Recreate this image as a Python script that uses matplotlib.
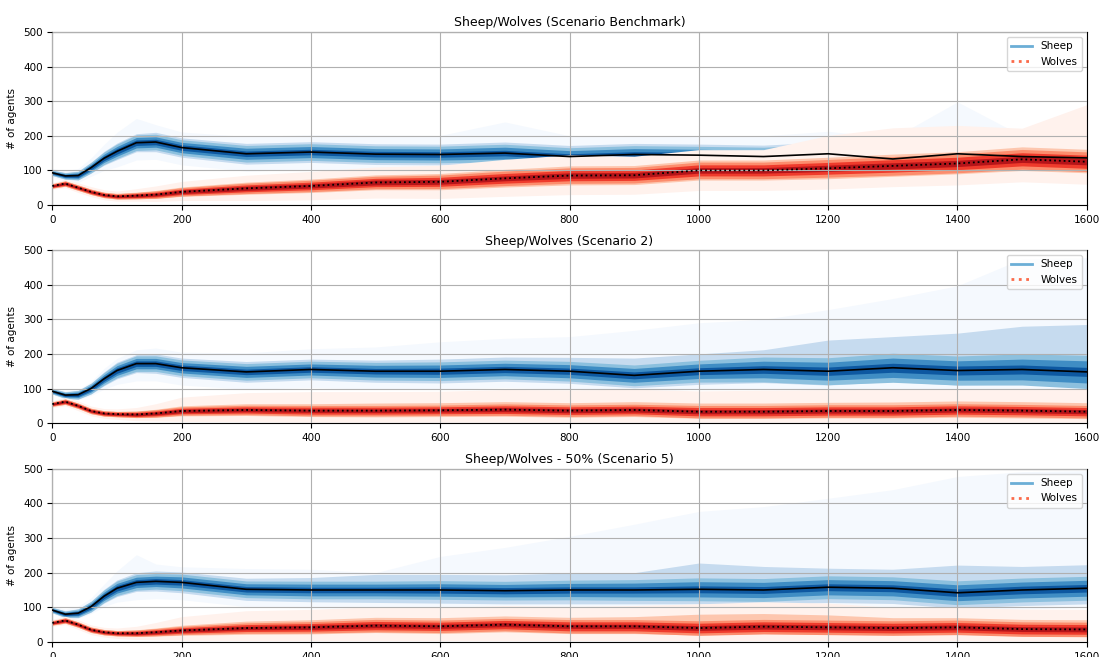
import numpy as np
import matplotlib
matplotlib.use('Agg')
import matplotlib.pyplot as plt
from matplotlib.lines import Line2D

steps = [0, 20, 40, 60, 80, 100, 130, 160, 200, 300, 400, 500, 600,
         700, 800, 900, 1000, 1100, 1200, 1300, 1400, 1500, 1600]

# ---- Scenario Benchmark ----
bench_sheep_med = [93, 84, 85, 108, 135, 155, 180, 182, 166, 148, 153, 147, 146,
                   150, 140, 146, 144, 140, 148, 133, 148, 140, 136]
bench_sheep_core = [3, 4, 5, 6, 7, 8, 8, 8, 8, 8, 8, 8, 8,
                    8, 8, 8, 8, 8, 9, 9, 9, 9, 9]
bench_sheep_iqr = [5, 6, 8, 10, 12, 14, 15, 15, 15, 16, 16, 16, 16,
                   17, 17, 17, 17, 18, 18, 18, 19, 20, 20]
bench_sheep_up90 = [8, 10, 13, 16, 20, 24, 26, 28, 28, 30, 30, 30, 30,
                    32, 32, 32, 32, 33, 34, 34, 36, 38, 40]
bench_sheep_dn90 = [8, 10, 13, 16, 20, 24, 26, 28, 28, 30, 30, 30, 30,
                    30, 30, 30, 30, 30, 30, 30, 30, 32, 32]
bench_sheep_upmax = [12, 15, 20, 28, 40, 55, 70, 50, 45, 50, 50, 55, 55,
                     90, 60, 55, 55, 60, 65, 60, 150, 60, 60]
bench_sheep_dnmax = [12, 15, 20, 25, 35, 45, 50, 50, 50, 50, 50, 50, 50,
                     50, 50, 50, 50, 50, 50, 50, 50, 50, 50]

bench_wolf_med = [55, 62, 50, 38, 29, 25, 27, 30, 38, 48, 55, 65, 67,
                  77, 85, 86, 100, 100, 106, 113, 120, 132, 125]
bench_wolf_core = [3, 3, 3, 3, 3, 3, 4, 4, 5, 6, 6, 7, 7,
                   7, 8, 8, 8, 8, 9, 9, 9, 9, 9]
bench_wolf_iqr = [4, 5, 5, 5, 5, 5, 6, 7, 8, 10, 11, 12, 13,
                  14, 15, 15, 16, 16, 17, 18, 18, 19, 19]
bench_wolf_up90 = [7, 8, 8, 8, 8, 9, 10, 12, 14, 18, 20, 22, 24,
                   26, 28, 28, 30, 30, 32, 34, 34, 36, 36]
bench_wolf_dn90 = [7, 8, 8, 8, 8, 8, 9, 11, 13, 17, 19, 21, 23,
                   25, 27, 27, 28, 28, 30, 30, 30, 32, 32]
bench_wolf_upmax = [10, 12, 14, 15, 15, 15, 20, 25, 30, 38, 42, 45, 48,
                    55, 60, 55, 60, 60, 95, 110, 110, 90, 165]
bench_wolf_dnmax = [10, 12, 14, 14, 14, 14, 16, 20, 25, 35, 40, 45, 48,
                    52, 55, 55, 58, 58, 60, 60, 62, 65, 65]

# ---- Scenario 2 ----
s2_sheep_med = [92, 81, 82, 100, 128, 152, 172, 172, 160, 148, 155, 150, 150,
                155, 150, 138, 150, 155, 150, 160, 152, 155, 148]
s2_sheep_core = [3, 4, 5, 6, 7, 8, 8, 8, 8, 8, 8, 8, 9,
                 9, 9, 10, 10, 11, 12, 13, 13, 13, 13]
s2_sheep_iqr = [5, 6, 8, 10, 12, 14, 15, 15, 15, 16, 16, 17, 18,
                18, 19, 20, 21, 24, 26, 28, 28, 30, 32]
s2_sheep_up90 = [8, 10, 13, 16, 20, 24, 26, 28, 28, 30, 30, 32, 35,
                 36, 40, 50, 50, 57, 90, 90, 108, 125, 137]
s2_sheep_dn90 = [8, 10, 13, 16, 20, 24, 26, 28, 28, 30, 30, 32, 34,
                 34, 35, 36, 38, 38, 40, 40, 42, 42, 42]
s2_sheep_upmax = [10, 12, 15, 20, 30, 35, 40, 45, 45, 55, 60, 70, 85,
                  90, 100, 130, 140, 145, 178, 200, 245, 320, 330]
s2_sheep_dnmax = [10, 12, 15, 20, 30, 40, 50, 50, 50, 50, 52, 52, 52,
                  52, 52, 45, 52, 55, 55, 60, 60, 60, 58]

s2_wolf_med = [55, 62, 50, 35, 28, 26, 25, 28, 35, 38, 36, 36, 37,
               39, 36, 38, 33, 33, 35, 35, 38, 36, 33]
s2_wolf_core = [3, 3, 3, 3, 3, 3, 4, 4, 5, 5, 5, 5, 5,
                6, 6, 6, 6, 6, 6, 6, 6, 6, 6]
s2_wolf_iqr = [4, 5, 5, 5, 5, 5, 6, 7, 8, 9, 10, 10, 10,
               11, 11, 11, 12, 12, 12, 12, 12, 12, 12]
s2_wolf_up90 = [7, 8, 8, 8, 8, 8, 10, 12, 15, 18, 20, 22, 22,
                23, 23, 24, 25, 25, 25, 26, 26, 26, 26]
s2_wolf_dn90 = [7, 8, 8, 8, 8, 8, 9, 11, 14, 16, 17, 18, 18,
                19, 19, 19, 19, 19, 20, 20, 21, 21, 20]
s2_wolf_upmax = [10, 12, 14, 14, 14, 15, 20, 28, 40, 50, 55, 55, 55,
                 58, 60, 60, 60, 62, 62, 62, 62, 65, 65]
s2_wolf_dnmax = [10, 12, 14, 14, 14, 15, 18, 22, 30, 34, 33, 33, 34,
                 36, 33, 35, 30, 30, 32, 32, 35, 33, 30]

# ---- Scenario 5 ----
s5_sheep_med = [92, 80, 83, 102, 132, 155, 172, 175, 172, 152, 150, 150, 150,
                148, 150, 150, 152, 150, 158, 155, 142, 150, 155]
s5_sheep_core = [3, 4, 5, 6, 7, 8, 8, 8, 8, 8, 8, 8, 9,
                 9, 9, 9, 10, 10, 10, 10, 11, 11, 11]
s5_sheep_iqr = [5, 6, 8, 10, 12, 14, 15, 15, 16, 16, 17, 17, 18,
                18, 19, 20, 22, 22, 22, 22, 23, 23, 23]
s5_sheep_up90 = [8, 10, 13, 16, 20, 24, 28, 30, 30, 32, 36, 45, 45,
                 46, 49, 50, 76, 68, 55, 55, 80, 68, 68]
s5_sheep_dn90 = [8, 10, 13, 16, 20, 24, 26, 28, 30, 32, 34, 36, 38,
                 38, 40, 40, 42, 42, 44, 44, 44, 45, 45]
s5_sheep_upmax = [10, 15, 20, 25, 35, 50, 80, 50, 45, 60, 60, 50, 97,
                  125, 155, 190, 225, 241, 257, 285, 336, 342, 340]
s5_sheep_dnmax = [10, 12, 15, 20, 30, 40, 50, 50, 50, 50, 52, 52, 52,
                  52, 52, 52, 55, 55, 55, 55, 50, 55, 55]

s5_wolf_med = [55, 62, 50, 35, 28, 25, 25, 28, 33, 40, 42, 47, 45,
               50, 45, 45, 40, 44, 42, 40, 42, 37, 36]
s5_wolf_core = [3, 3, 3, 3, 3, 3, 4, 4, 5, 5, 6, 6, 6,
                6, 6, 6, 7, 7, 7, 7, 7, 7, 7]
s5_wolf_iqr = [4, 5, 5, 5, 5, 5, 6, 7, 8, 10, 11, 12, 12,
               12, 13, 13, 14, 14, 14, 14, 14, 14, 14]
s5_wolf_up90 = [7, 8, 8, 8, 8, 8, 10, 12, 15, 20, 22, 24, 25,
                25, 26, 28, 40, 38, 36, 30, 28, 28, 28]
s5_wolf_dn90 = [7, 8, 8, 8, 8, 8, 9, 11, 14, 18, 19, 20, 21,
                21, 21, 21, 20, 20, 20, 20, 20, 20, 20]
s5_wolf_upmax = [10, 12, 14, 14, 14, 15, 20, 28, 40, 50, 52, 55, 55,
                 55, 58, 60, 70, 72, 70, 60, 58, 58, 58]
s5_wolf_dnmax = [10, 12, 14, 14, 14, 15, 18, 22, 28, 36, 38, 43, 41,
                 46, 41, 41, 36, 40, 38, 36, 38, 34, 33]

titles = ['Sheep/Wolves (Scenario Benchmark)', 'Sheep/Wolves (Scenario 2)',
          'Sheep/Wolves - 50% (Scenario 5)']

scenarios = [
    ((bench_sheep_med, bench_sheep_core, bench_sheep_iqr, bench_sheep_up90,
      bench_sheep_dn90, bench_sheep_upmax, bench_sheep_dnmax),
     (bench_wolf_med, bench_wolf_core, bench_wolf_iqr, bench_wolf_up90,
      bench_wolf_dn90, bench_wolf_upmax, bench_wolf_dnmax)),
    ((s2_sheep_med, s2_sheep_core, s2_sheep_iqr, s2_sheep_up90,
      s2_sheep_dn90, s2_sheep_upmax, s2_sheep_dnmax),
     (s2_wolf_med, s2_wolf_core, s2_wolf_iqr, s2_wolf_up90,
      s2_wolf_dn90, s2_wolf_upmax, s2_wolf_dnmax)),
    ((s5_sheep_med, s5_sheep_core, s5_sheep_iqr, s5_sheep_up90,
      s5_sheep_dn90, s5_sheep_upmax, s5_sheep_dnmax),
     (s5_wolf_med, s5_wolf_core, s5_wolf_iqr, s5_wolf_up90,
      s5_wolf_dn90, s5_wolf_upmax, s5_wolf_dnmax)),
]

BLUES = ['#f5f9fe', '#c6dbef', '#8cc0de', '#3f8dc4', '#0d58a1']
REDS = ['#fff2ed', '#fdc6ae', '#fc8d6d', '#ef3b2c', '#b51419']


def fan(ax, series, colors):
    med, core, iqr, up90, dn90, upmax, dnmax = [np.array(a, float) for a in series]
    x = np.array(steps)
    ax.fill_between(x, med - dnmax, med + upmax, color=colors[0], lw=0)
    ax.fill_between(x, med - dn90, med + up90, color=colors[1], lw=0)
    ax.fill_between(x, med - iqr * 1.5, med + iqr * 1.5, color=colors[2], lw=0)
    ax.fill_between(x, med - iqr, med + iqr, color=colors[3], lw=0)
    ax.fill_between(x, med - core, med + core, color=colors[4], lw=0)


fig = plt.figure(figsize=(10.99, 6.57), dpi=100)
bottoms = [0.688, 0.356, 0.023]
for i in range(3):
    ax = fig.add_axes([0.0476, bottoms[i], 0.9413, 0.2633])
    sheep, wolves = scenarios[i]
    # bands first (wolves over sheep), median lines on top
    fan(ax, sheep, BLUES)
    fan(ax, wolves, REDS)
    ax.plot(steps, sheep[0], color='black', ls='-', lw=1.2, zorder=3)
    ax.plot(steps, wolves[0], color='black', ls=':', lw=1.3, zorder=3)
    ax.set_xlim(0, 1600)
    ax.set_ylim(0, 500)
    ax.set_yticks([0, 100, 200, 300, 400, 500])
    ax.grid(True, color='#b0b0b0', lw=0.8, zorder=2.5)
    ax.set_axisbelow(False)
    ax.tick_params(labelsize=7.5)
    ax.set_ylabel('# of agents', fontsize=7.5)
    ax.set_title(titles[i], fontsize=9, pad=4)
    handles = [Line2D([], [], color='#6baed6', lw=2),
               Line2D([], [], color='#fb6a4a', lw=2, ls=':')]
    ax.legend(handles, ['Sheep', 'Wolves'], loc='upper right', fontsize=7.5)

fig.savefig('out.png', dpi=100)
